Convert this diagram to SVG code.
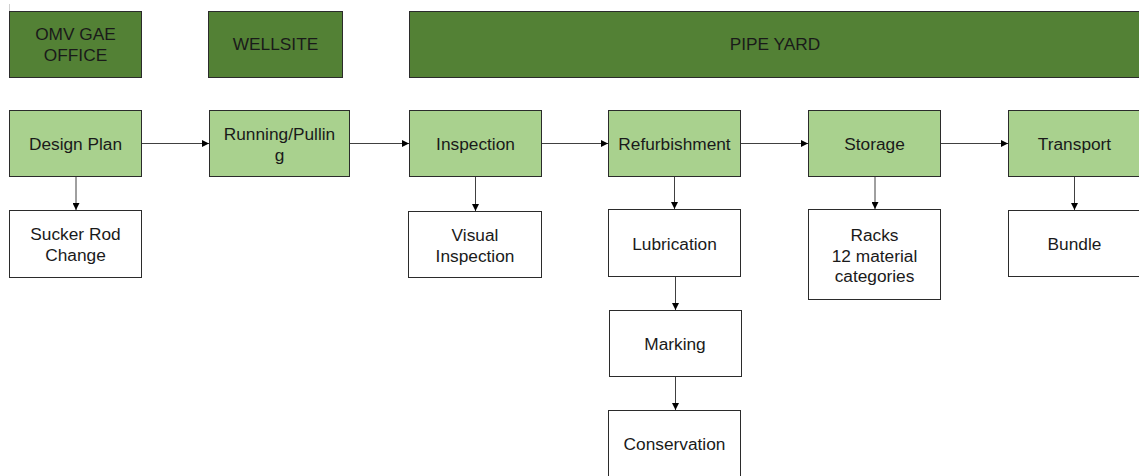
<svg xmlns="http://www.w3.org/2000/svg" width="1139" height="476" viewBox="0 0 1139 476">
  <defs>
    <style>
      .loc { fill: #538135; stroke: #2b2b2b; stroke-width: 1; }
      .step { fill: #a9d18e; stroke: #2b2b2b; stroke-width: 1; }
      .task { fill: #ffffff; stroke: #2b2b2b; stroke-width: 1; }
      text { font-family: "Liberation Sans", Arial, sans-serif; font-size: 17.3px; fill: #1a1a1a; text-anchor: middle; }
      .conn { stroke: #404040; stroke-width: 1; fill: none; marker-end: url(#arrow); }
    </style>
    <marker id="arrow" viewBox="0 0 8 8" refX="8" refY="4" markerWidth="7" markerHeight="7" markerUnits="userSpaceOnUse" orient="auto">
      <path d="M0,0 L8,4 L0,8 Z" fill="#000000"/>
    </marker>
  </defs>

  <rect width="1139" height="476" fill="#ffffff"/>

  <!-- faint guide tick above the first column -->
  <line x1="9.5" y1="4" x2="9.5" y2="11" stroke="#d0d0d0" stroke-width="1"/>

  <!-- location headers -->
  <g id="omv-office">
    <rect class="loc" x="9.5" y="11.5" width="132" height="66"/>
    <text x="75.5" y="40">OMV GAE</text>
    <text x="75.5" y="61">OFFICE</text>
  </g>
  <g id="wellsite">
    <rect class="loc" x="208.5" y="11.5" width="134" height="66"/>
    <text x="275.5" y="50">WELLSITE</text>
  </g>
  <g id="pipe-yard">
    <rect class="loc" x="409.5" y="11.5" width="736" height="66"/>
    <text x="775" y="50">PIPE YARD</text>
  </g>

  <!-- process steps -->
  <g id="design-plan">
    <rect class="step" x="9.5" y="110.5" width="132" height="66"/>
    <text x="75.5" y="150">Design Plan</text>
  </g>
  <g id="running-pulling">
    <rect class="step" x="209.5" y="110.5" width="140" height="66"/>
    <text x="279.5" y="140">Running/Pullin</text>
    <text x="279.5" y="161">g</text>
  </g>
  <g id="inspection">
    <rect class="step" x="409.5" y="110.5" width="132" height="66"/>
    <text x="475.5" y="150">Inspection</text>
  </g>
  <g id="refurbishment">
    <rect class="step" x="608.5" y="110.5" width="132" height="66"/>
    <text x="674.5" y="150">Refurbishment</text>
  </g>
  <g id="storage">
    <rect class="step" x="808.5" y="110.5" width="132" height="66"/>
    <text x="874.5" y="150">Storage</text>
  </g>
  <g id="transport">
    <rect class="step" x="1008.5" y="110.5" width="140" height="66"/>
    <text x="1074.5" y="150">Transport</text>
  </g>

  <!-- sub-tasks -->
  <g id="sucker-rod-change">
    <rect class="task" x="9.5" y="210.5" width="132" height="67"/>
    <text x="75.5" y="240">Sucker Rod</text>
    <text x="75.5" y="261">Change</text>
  </g>
  <g id="visual-inspection">
    <rect class="task" x="408.5" y="211.5" width="133" height="66"/>
    <text x="475" y="241">Visual</text>
    <text x="475" y="262">Inspection</text>
  </g>
  <g id="lubrication">
    <rect class="task" x="608.5" y="209.5" width="132" height="67"/>
    <text x="674.5" y="250">Lubrication</text>
  </g>
  <g id="marking">
    <rect class="task" x="609.5" y="310.5" width="132" height="66"/>
    <text x="675" y="350">Marking</text>
  </g>
  <g id="conservation">
    <rect class="task" x="608.5" y="410.5" width="132" height="70"/>
    <text x="674.5" y="450">Conservation</text>
  </g>
  <g id="racks">
    <rect class="task" x="808.5" y="209.5" width="132" height="90"/>
    <text x="874.5" y="241">Racks</text>
    <text x="874.5" y="262">12 material</text>
    <text x="874.5" y="282">categories</text>
  </g>
  <g id="bundle">
    <rect class="task" x="1008.5" y="210.5" width="140" height="66"/>
    <text x="1074.5" y="250">Bundle</text>
  </g>

  <!-- connectors -->
  <g id="connectors">
    <line class="conn" x1="142" y1="143.5" x2="209" y2="143.5"/>
    <line class="conn" x1="350" y1="143.5" x2="409" y2="143.5"/>
    <line class="conn" x1="542" y1="143.5" x2="608" y2="143.5"/>
    <line class="conn" x1="741" y1="143.5" x2="808" y2="143.5"/>
    <line class="conn" x1="941" y1="143.5" x2="1008" y2="143.5"/>

    <line class="conn" x1="76" y1="177" x2="76" y2="210"/>
    <line class="conn" x1="475.5" y1="177" x2="475.5" y2="211"/>
    <line class="conn" x1="674.5" y1="177" x2="674.5" y2="209"/>
    <line class="conn" x1="675.5" y1="277" x2="675.5" y2="310"/>
    <line class="conn" x1="675.5" y1="377" x2="675.5" y2="410"/>
    <line class="conn" x1="875" y1="177" x2="875" y2="209"/>
    <line class="conn" x1="1074.5" y1="177" x2="1074.5" y2="210"/>
  </g>
</svg>
